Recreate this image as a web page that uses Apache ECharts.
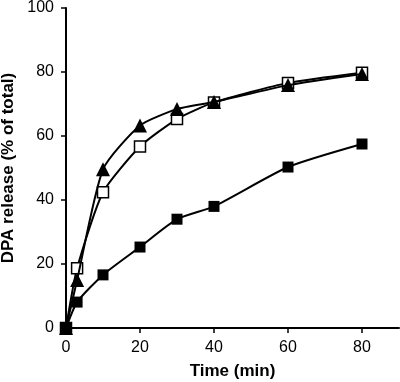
<!DOCTYPE html>
<html>
<head>
<meta charset="utf-8">
<script src="https://cdn.jsdelivr.net/npm/echarts@6/dist/echarts.min.js"></script>
<style>
  html, body { margin: 0; padding: 0; background: #fff; }
  #chart { width: 400px; height: 382px; }
</style>
</head>
<body>
<div id="chart"></div>
<script>
// time points (min)
const times = [0, 3, 10, 20, 30, 40, 60, 80]
// DPA release (% of total)
const filledSquare = [0, 8.1, 16.6, 25.3, 34, 38, 50.3, 57.5]
const openSquare = [0, 18.7, 42.4, 56.7, 65.3, 70.5, 76.6, 79.8]
const filledTriangle = [0, 15, 49.6, 63.3, 68.4, 70.6, 75.9, 79.4]
const xTicks = [0, 20, 40, 60, 80]
const yTicks = [0, 20, 40, 60, 80, 100]

function pairs(ys) {
  return times.map((t, i) => [t, ys[i]])
}

const myChart = echarts.init(document.getElementById('chart'))
const font = 'Liberation Sans, Arial, sans-serif'

const option = {
  animation: false,
  grid: {
    left: 66,
    right: 1,
    top: 8,
    bottom: 54,
    containLabel: false,
    outerBoundsMode: 'none'
  },
  xAxis: {
    type: 'value',
    min: 0,
    max: 90,
    name: 'Time (min)',
    nameLocation: 'middle',
    nameGap: 35,
    nameTextStyle: { color: '#000', fontSize: 17, fontWeight: 'bold', fontFamily: font },
    splitLine: { show: false },
    axisLine: { lineStyle: { color: '#000', width: 2 } },
    axisTick: { length: 5, lineStyle: { color: '#000', width: 1.5 }, customValues: xTicks },
    axisLabel: { color: '#000', fontSize: 16, fontFamily: font, margin: 12, customValues: xTicks }
  },
  yAxis: {
    type: 'value',
    min: 0,
    max: 100,
    name: 'DPA release (% of total)',
    nameLocation: 'middle',
    nameGap: 49,
    nameTextStyle: { color: '#000', fontSize: 17, fontWeight: 'bold', fontFamily: font },
    splitLine: { show: false },
    axisLine: { show: true, lineStyle: { color: '#000', width: 2 } },
    axisTick: { show: true, length: 5, lineStyle: { color: '#000', width: 1.5 }, customValues: yTicks },
    axisLabel: { color: '#000', fontSize: 16, fontFamily: font, margin: 12, customValues: yTicks }
  },
  series: [
    {
      type: 'line',
      data: pairs(openSquare),
      smooth: 0.2,
      symbol: 'rect',
      symbolSize: 11,
      lineStyle: { color: '#000', width: 2 },
      itemStyle: { color: '#fff', borderColor: '#000', borderWidth: 1.5 },
      z: 2
    },
    {
      type: 'line',
      data: pairs(filledTriangle),
      smooth: 0.2,
      symbol: 'triangle',
      symbolSize: 14,
      lineStyle: { color: '#000', width: 2 },
      itemStyle: { color: '#000', borderColor: '#000', borderWidth: 0 },
      z: 3
    },
    {
      type: 'line',
      data: pairs(filledSquare),
      smooth: 0.2,
      symbol: 'rect',
      symbolSize: 11,
      lineStyle: { color: '#000', width: 2 },
      itemStyle: { color: '#000', borderColor: '#000', borderWidth: 0 },
      z: 4
    }
  ]
}
myChart.setOption(option)
</script>
</body>
</html>
